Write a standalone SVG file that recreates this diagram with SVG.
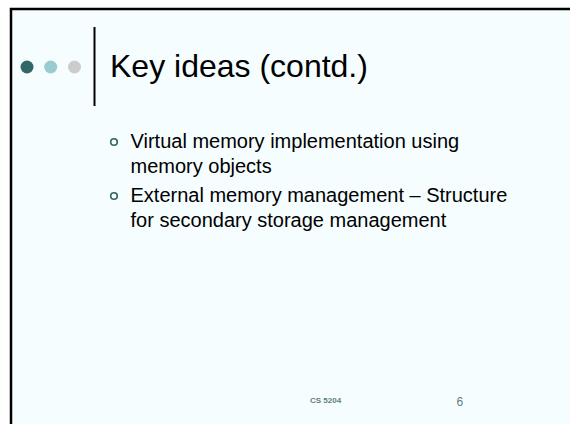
<svg xmlns="http://www.w3.org/2000/svg" width="570" height="424" viewBox="0 0 570 424">
<style>
.body{font-family:"Liberation Sans",Arial,sans-serif;font-size:20px;fill:#000}
.title{font-family:"Liberation Sans",Arial,sans-serif;font-size:32px;fill:#000}
.bul{fill:none;stroke:#336666;stroke-width:1.6}
.foot{font-family:"Liberation Sans",Arial,sans-serif;fill:#5f7f7f}
</style>
<rect width="570" height="424" fill="#ffffff"/>
<rect x="11" y="9" width="570" height="430" fill="#f5fdff" stroke="#000" stroke-width="2.5"/>
<g id="dots">
<circle cx="27" cy="67" r="6.5" fill="#336666"/>
<circle cx="50.7" cy="67" r="6.5" fill="#99cccc"/>
<circle cx="74.5" cy="67" r="6.5" fill="#cccccc"/>
</g>
<line x1="94.5" y1="27" x2="94.5" y2="106" stroke="#000" stroke-width="2"/>
<g id="title"><text class="title" x="110" y="77">Key ideas (contd.)</text></g>
<g id="bullets">
<circle class="bul" cx="114" cy="142" r="3.3"/>
<text class="body" x="130.5" y="148">Virtual memory implementation using</text>
<text class="body" x="130.5" y="173">memory objects</text>
<circle class="bul" cx="114" cy="196" r="3.3"/>
<text class="body" x="130.5" y="202">External memory management – Structure</text>
<text class="body" x="130.5" y="227">for secondary storage management</text>
</g>
<g id="footer">
<text class="foot" x="310" y="403" font-size="8" font-weight="bold">CS 5204</text>
<text class="foot" x="456.5" y="405.5" font-size="12">6</text>
</g>
</svg>
